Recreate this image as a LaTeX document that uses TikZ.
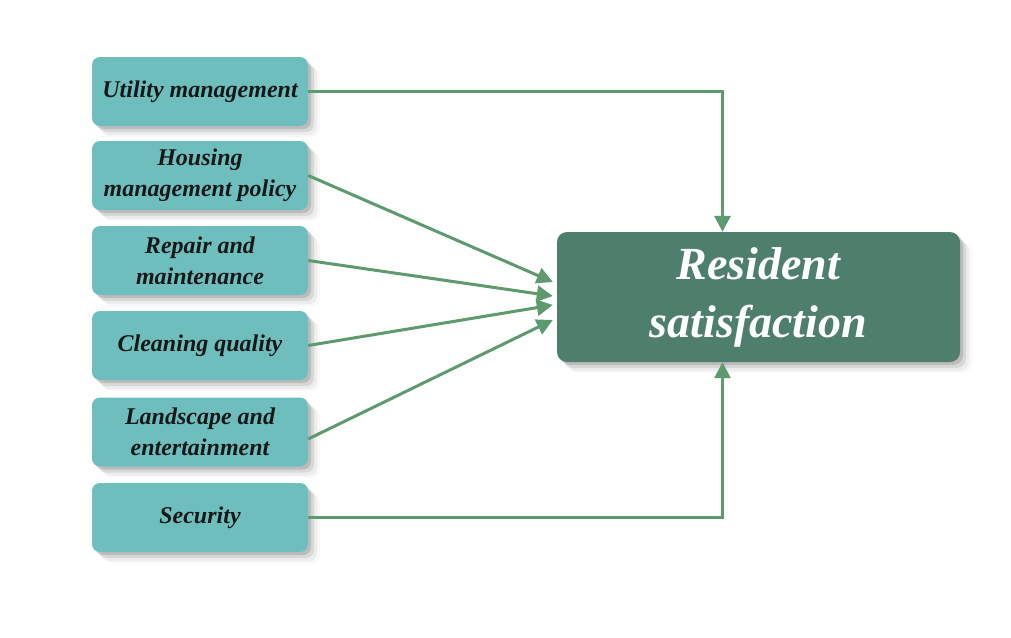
\documentclass[tikz,border=0pt]{standalone}
\usepackage{fontspec}
\setmainfont{Liberation Serif}
\usetikzlibrary{shadows,arrows.meta,positioning}
\definecolor{tealbox}{RGB}{111,190,190}
\definecolor{darkbox}{RGB}{78,126,108}
\definecolor{arrowgreen}{RGB}{94,154,110}
\definecolor{txtdark}{RGB}{20,24,24}
\tikzset{
  softshadow/.style={
    drop shadow={shadow xshift=3pt,shadow yshift=-3pt,opacity=0.22,fill=black!70},
    drop shadow={shadow xshift=6pt,shadow yshift=-6pt,opacity=0.16,fill=black!60},
    drop shadow={shadow xshift=9pt,shadow yshift=-9pt,opacity=0.10,fill=black!50},
    drop shadow={shadow xshift=12pt,shadow yshift=-11pt,opacity=0.06,fill=black!40}},
  factor/.style={softshadow,fill=tealbox,rounded corners=8pt,minimum width=216pt,
    minimum height=69pt,align=center,text=txtdark,font=\fontsize{24}{31}\selectfont\bfseries\itshape,inner sep=2pt},
  outcome/.style={softshadow,fill=darkbox,rounded corners=10pt,minimum width=403pt,
    minimum height=130pt,align=center,text=white,font=\fontsize{46}{58}\selectfont\bfseries\itshape},
  link/.style={draw=arrowgreen,line width=3pt,-{Triangle[length=16pt,width=16pt]}}
}
\begin{document}
\begin{tikzpicture}[x=1pt,y=-1pt]
\useasboundingbox (0,0) rectangle (1011,637);
\node[factor] (u) at (200,91.5) {Utility management};
\node[factor] (h) at (200,175.5) {Housing\\management policy};
\node[factor] (m) at (200,260.5) {Repair and\\maintenance};
\node[factor] (c) at (200,345.5) {Cleaning quality};
\node[factor] (l) at (200,432) {Landscape and\\entertainment};
\node[factor] (s) at (200,517.5) {Security};
\node[outcome] (r) at (758.5,297) {Resident\\satisfaction};
\draw[link] (u.east) -| ([xshift=-36pt]r.north);
\draw[link] (s.east) -| ([xshift=-36pt]r.south);
\draw[link] (h.east) -- ([xshift=-4pt,yshift=15pt]r.west);
\draw[link] (m.east) -- ([xshift=-4pt,yshift=1pt]r.west);
\draw[link] (c.east) -- ([xshift=-4pt,yshift=-8pt]r.west);
\draw[link] ([yshift=-7pt]l.east) -- ([xshift=-4pt,yshift=-23pt]r.west);
\end{tikzpicture}
\end{document}
